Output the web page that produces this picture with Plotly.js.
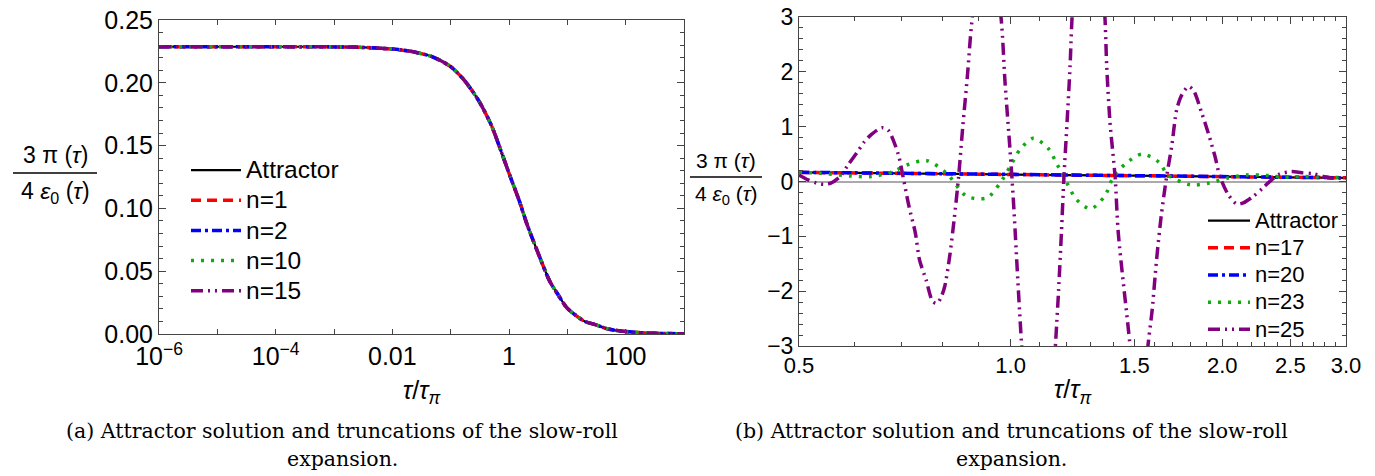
<!DOCTYPE html>
<html>
<head>
<meta charset="utf-8">
<script src="https://cdn.plot.ly/plotly-3.0.1.min.js"></script>
<style>
  html, body { margin: 0; padding: 0; background: #fff; }
  #chart { width: 1375px; height: 476px; }
</style>
</head>
<body>
<div id="chart"></div>
<script>
// ---------- Panel (a): attractor and truncations (log x) ----------
const tauL = [1e-6, 1e-5, 1e-4, 1e-3, 3e-3, 0.01, 0.02, 0.05, 0.1, 0.17, 0.3, 0.5, 0.7, 1,
              1.5, 2, 3, 5, 7, 10, 20, 30, 50, 100, 300, 1000];
const attractorL = [0.2287, 0.2287, 0.2287, 0.2286, 0.2282, 0.2269, 0.2252, 0.2205, 0.2128, 0.2022,
                    0.186, 0.166, 0.148, 0.128, 0.106, 0.0884, 0.067, 0.042, 0.031, 0.0205,
                    0.010, 0.0075, 0.004, 0.0019, 0.0006, 0.0002];
// truncations n=1,2,10,15 are indistinguishable from the attractor at this scale
const n1L  = attractorL;
const n2L  = attractorL;
const n10L = attractorL;
const n15L = attractorL;

const xTickValsL = [1e-6, 1e-4, 1e-2, 1, 100];
const xTickTextL = ['10<sup>\u22126</sup>', '10<sup>\u22124</sup>', '0.01', '1', '100'];
const xMinorL = [1e-5, 1e-3, 1e-1, 10, 1000];
const yTickValsL = [0, 0.05, 0.10, 0.15, 0.20, 0.25];
const yTickTextL = ['0.00', '0.05', '0.10', '0.15', '0.20', '0.25'];

// ---------- Panel (b): higher truncations ----------
const tauR = [0.5, 0.6, 0.7, 0.8, 0.9, 1.0, 1.2, 1.5, 2.0, 2.5, 3.0];
const attractorR = [0.166, 0.157, 0.148, 0.141, 0.134, 0.128, 0.117, 0.106, 0.088, 0.076, 0.067];
const n17R = [0.166, 0.157, 0.148, 0.141, 0.134, 0.128, 0.117, 0.106, 0.088, 0.076, 0.067];
const n20R = [0.168, 0.158, 0.150, 0.142, 0.135, 0.130, 0.118, 0.107, 0.089, 0.077, 0.068];

const tauG = [0.5, 0.536, 0.591, 0.634, 0.681, 0.711, 0.760, 0.811, 0.866, 0.925, 0.966, 0.998,
              1.031, 1.077, 1.130, 1.166, 1.203, 1.241, 1.300, 1.362, 1.399, 1.459, 1.538, 1.626,
              1.674, 1.800, 1.915, 2.032, 2.169, 2.316, 2.441, 2.605, 2.782, 3.0];
const n23R = [0.17, 0.15, 0.10, 0.09, 0.18, 0.30, 0.38, 0.15, -0.27, -0.30, -0.03, 0.27,
              0.58, 0.79, 0.61, 0.30, -0.03, -0.33, -0.50, -0.26, 0.07, 0.33, 0.50, 0.35,
              0.12, -0.06, -0.03, 0.06, 0.12, 0.11, 0.08, 0.09, 0.08, 0.07];

const tauP = [0.5, 0.515, 0.530, 0.543, 0.555, 0.572, 0.587, 0.604, 0.619, 0.634, 0.656, 0.670,
              0.692, 0.703, 0.717, 0.732, 0.742, 0.758, 0.775, 0.786, 0.797, 0.806, 0.819, 0.831,
              0.843, 0.855, 0.868, 0.880, 0.923, 0.969, 0.982, 0.998, 1.009, 1.037, 1.101, 1.158,
              1.170, 1.181, 1.191, 1.203, 1.215, 1.223, 1.288, 1.362, 1.370, 1.385, 1.408, 1.423,
              1.479, 1.523, 1.568, 1.590, 1.613, 1.637, 1.667, 1.695, 1.723, 1.752, 1.790, 1.819,
              1.870, 1.911, 1.953, 1.985, 2.040, 2.097, 2.143, 2.214, 2.288, 2.351, 2.417, 2.511,
              2.595, 2.695, 2.784, 2.874, 3.0];
const n25R = [0.12, 0.03, -0.03, -0.05, -0.03, 0.09, 0.30, 0.52, 0.72, 0.86, 0.98, 0.93,
              0.50, 0.09, -0.46, -0.94, -1.43, -1.79, -2.19, -2.22, -2.10, -1.91, -1.37, -0.70,
              0.06, 1.00, 1.92, 2.86, 5.0, 3.0, 1.80, 0.58, -0.33, -3.0, -7.5, -3.0,
              -2.0, -0.94, 0.09, 1.07, 2.10, 3.0, 8.0, 3.0, 2.10, 1.07, 0.09, -0.94,
              -3.0, -4.8, -3.0, -2.34, -1.43, -0.65, 0.09, 0.64, 1.31, 1.58, 1.73, 1.67,
              1.25, 0.88, 0.46, 0.09, -0.24, -0.41, -0.39, -0.27, -0.11, 0.03, 0.14, 0.18,
              0.16, 0.14, 0.09, 0.06, 0.06];

const xTickValsR = [0.5, 1.0, 1.5, 2.0, 2.5, 3.0];
const xTickTextR = ['0.5', '1.0', '1.5', '2.0', '2.5', '3.0'];
const xMinorR = [0.6, 0.7, 0.8, 0.9, 1.1, 1.2, 1.3, 1.4, 1.6, 1.7, 1.8, 1.9, 2.1, 2.2, 2.3, 2.4, 2.6, 2.7, 2.8, 2.9];
const yTickValsR = [-3, -2, -1, 0, 1, 2, 3];
const yTickTextR = ['\u22123', '\u22122', '\u22121', '0', '1', '2', '3'];

const labelsL = ['Attractor', 'n=1', 'n=2', 'n=10', 'n=15'];
const labelsR = ['Attractor', 'n=17', 'n=20', 'n=23', 'n=25'];

// ---------- styling ----------
const W = 1375, H = 476;
const px = v => v / W;
const py = v => 1 - v / H;
const SANS = 'Liberation Sans, Arial, sans-serif';
const SERIF = 'DejaVu Serif, serif';
const RED = '#ff0000', BLUE = '#0000ff', GREEN = '#11aa11', PURPLE = '#800080';
const styles = [
  {color: '#000000', width: 2.2, dash: 'solid'},
  {color: RED, width: 3.5, dash: '10px,6px'},
  {color: BLUE, width: 3.5, dash: '10px,4px,3px,4px'},
  {color: GREEN, width: 3.5, dash: '3px,7px'},
  {color: PURPLE, width: 3.5, dash: '12px,5px,2px,5px,2px,5px'}
];
const sized = (t, s) => '<span style="font-size:' + s + 'px">' + t + '</span>';

const seriesL = [attractorL, n1L, n2L, n10L, n15L];
const traces = [];
seriesL.forEach((ys, i) => {
  traces.push({
    x: tauL, y: ys, xaxis: 'x', yaxis: 'y', type: 'scatter', mode: 'lines',
    name: sized(labelsL[i], 24.5), legend: 'legend',
    line: Object.assign({shape: 'spline', smoothing: 0.8}, styles[i])
  });
});
const seriesR = [[tauR, attractorR], [tauR, n17R], [tauR, n20R], [tauG, n23R], [tauP, n25R]];
seriesR.forEach((s, i) => {
  traces.push({
    x: s[0], y: s[1], xaxis: 'x2', yaxis: 'y2', type: 'scatter', mode: 'lines',
    name: sized(labelsR[i], 22), legend: 'legend2',
    line: Object.assign({shape: 'spline', smoothing: 0.8}, styles[i])
  });
});

const FRAME = '#444444';
const axisCommon = {
  showline: true, linecolor: FRAME, linewidth: 1, mirror: 'ticks',
  ticks: 'inside', ticklen: 7, tickwidth: 1, tickcolor: FRAME,
  showgrid: false, zeroline: false, tickmode: 'array'
};

const layout = {
  width: W, height: H,
  margin: {l: 0, r: 0, t: 0, b: 0},
  paper_bgcolor: '#ffffff', plot_bgcolor: '#ffffff',
  font: {family: SANS, color: '#000000'},
  xaxis: Object.assign({}, axisCommon, {
    domain: [px(159), px(684)], anchor: 'y', type: 'log', range: [-6, 3],
    tickvals: xTickValsL, ticktext: xTickTextL, ticklen: 5,
    tickfont: {size: 25, family: SANS},
    minor: {tickmode: 'array', tickvals: xMinorL, ticklen: 5, tickcolor: FRAME, ticks: 'inside'},
    title: {text: '<i>τ</i>/<i>τ</i><sub><i>π</i></sub>', font: {size: 25, family: SANS}, standoff: 12}
  }),
  yaxis: Object.assign({}, axisCommon, {
    domain: [py(334), py(20)], anchor: 'x', range: [0, 0.25],
    tickvals: yTickValsL, ticktext: yTickTextL,
    tickfont: {size: 25, family: SANS},
    minor: {tickmode: 'linear', tick0: 0, dtick: 0.01, ticklen: 4, tickcolor: FRAME, ticks: 'inside'}
  }),
  xaxis2: Object.assign({}, axisCommon, {
    domain: [px(799), px(1346)], anchor: 'y2', type: 'log', range: [Math.log10(0.5), Math.log10(3)],
    tickvals: xTickValsR, ticktext: xTickTextR,
    tickfont: {size: 22, family: SANS},
    minor: {tickmode: 'array', tickvals: xMinorR, ticklen: 4, tickcolor: FRAME, ticks: 'inside'},
    title: {text: '<i>τ</i>/<i>τ</i><sub><i>π</i></sub>', font: {size: 25, family: SANS}, standoff: 3}
  }),
  yaxis2: Object.assign({}, axisCommon, {
    domain: [py(346), py(17)], anchor: 'x2', range: [-3, 3],
    tickvals: yTickValsR, ticktext: yTickTextR,
    tickfont: {size: 23, family: SANS},
    zeroline: true, zerolinecolor: '#aaaaaa', zerolinewidth: 2,
    minor: {tickmode: 'linear', tick0: 0, dtick: 0.2, ticklen: 4, tickcolor: FRAME, ticks: 'inside'}
  }),
  legend: {
    x: px(186), y: py(150), xanchor: 'left', yanchor: 'top',
    bgcolor: 'rgba(0,0,0,0)', borderwidth: 0, itemwidth: 50,
    font: {size: 20.9, family: SANS}
  },
  legend2: {
    x: px(1203), y: py(202), xanchor: 'left', yanchor: 'top',
    bgcolor: 'rgba(0,0,0,0)', borderwidth: 0, itemwidth: 42,
    font: {size: 18.6, family: SANS}
  },
  shapes: [
    {type: 'line', xref: 'paper', yref: 'paper', x0: px(13), x1: px(97), y0: py(173), y1: py(173),
     line: {color: '#000', width: 1.5}},
    {type: 'line', xref: 'paper', yref: 'paper', x0: px(690), x1: px(762), y0: py(177), y1: py(177),
     line: {color: '#000', width: 1.5}}
  ],
  annotations: [
    {text: '3 π (<i>τ</i>)', xref: 'paper', yref: 'paper', x: px(55), y: py(170), xanchor: 'center', yanchor: 'bottom',
     showarrow: false, font: {size: 23, family: SANS}},
    {text: '4 <i>ε</i><sub>0</sub> (<i>τ</i>)', xref: 'paper', yref: 'paper', x: px(55), y: py(176), xanchor: 'center', yanchor: 'top',
     showarrow: false, font: {size: 23, family: SANS}},
    {text: '3 π (<i>τ</i>)', xref: 'paper', yref: 'paper', x: px(726), y: py(174), xanchor: 'center', yanchor: 'bottom',
     showarrow: false, font: {size: 21, family: SANS}},
    {text: '4 <i>ε</i><sub>0</sub> (<i>τ</i>)', xref: 'paper', yref: 'paper', x: px(726), y: py(180), xanchor: 'center', yanchor: 'top',
     showarrow: false, font: {size: 21, family: SANS}},
    {text: '(a) Attractor solution and truncations of the slow-roll', xref: 'paper', yref: 'paper',
     x: px(342), y: py(431), xanchor: 'center', yanchor: 'middle', showarrow: false, font: {size: 20.5, family: SERIF}},
    {text: 'expansion.', xref: 'paper', yref: 'paper',
     x: px(342), y: py(459), xanchor: 'center', yanchor: 'middle', showarrow: false, font: {size: 20.5, family: SERIF}},
    {text: '(b) Attractor solution and truncations of the slow-roll', xref: 'paper', yref: 'paper',
     x: px(1011), y: py(431), xanchor: 'center', yanchor: 'middle', showarrow: false, font: {size: 20.5, family: SERIF}},
    {text: 'expansion.', xref: 'paper', yref: 'paper',
     x: px(1011), y: py(459), xanchor: 'center', yanchor: 'middle', showarrow: false, font: {size: 20.5, family: SERIF}}
  ],
  showlegend: true
};

Plotly.newPlot('chart', traces, layout, {displayModeBar: false, staticPlot: true});
</script>
</body>
</html>
